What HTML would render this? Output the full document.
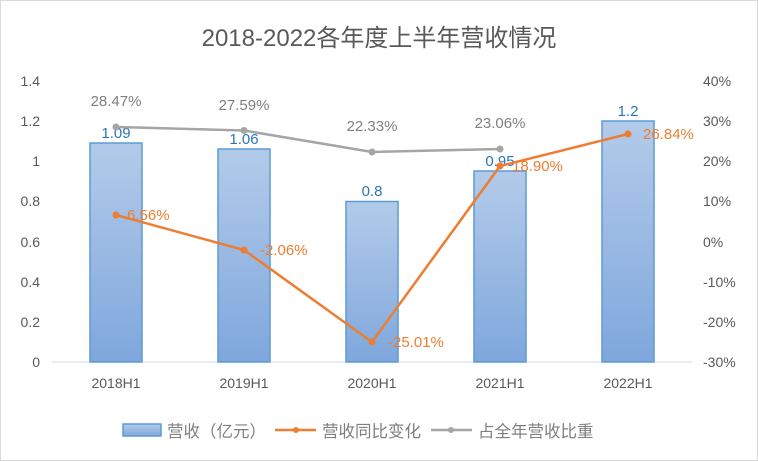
<!DOCTYPE html><html><head><meta charset="utf-8"><style>body{margin:0;background:#fff}svg{display:block}text{font-family:"Liberation Sans","Noto Sans CJK SC",sans-serif}</style></head><body>
<svg width="758" height="461" viewBox="0 0 758 461">
<defs><linearGradient id="g" x1="0" y1="0" x2="0" y2="1"><stop offset="0" stop-color="#b3cbea"/><stop offset="1" stop-color="#7fa7dc"/></linearGradient></defs>
<rect x="0.5" y="0.5" width="757" height="460" fill="#fff" stroke="#d9d9d9"/>
<text x="379" y="46" font-size="24" fill="#595959" text-anchor="middle">2018-2022各年度上半年营收情况</text>
<g stroke="#d9d9d9"><line x1="52" y1="362" x2="692" y2="362"/></g>
<g font-size="14" fill="#595959" text-anchor="end">
<text x="40" y="367">0</text><text x="40" y="327">0.2</text><text x="40" y="287">0.4</text><text x="40" y="247">0.6</text><text x="40" y="206">0.8</text><text x="40" y="166">1</text><text x="40" y="126">1.2</text><text x="40" y="86">1.4</text></g>
<g font-size="14" fill="#595959" text-anchor="start">
<text x="703" y="86">40%</text><text x="703" y="126">30%</text><text x="703" y="166">20%</text><text x="703" y="206">10%</text><text x="703" y="247">0%</text><text x="703" y="287">-10%</text><text x="703" y="327">-20%</text><text x="703" y="367">-30%</text></g>
<g font-size="14" fill="#595959" text-anchor="middle">
<text x="116" y="388">2018H1</text><text x="244" y="388">2019H1</text><text x="372" y="388">2020H1</text><text x="500" y="388">2021H1</text><text x="628" y="388">2022H1</text></g>
<g fill="url(#g)" stroke="#5b9bd5" stroke-width="1.5">
<rect x="90" y="143" width="52" height="219"/><rect x="218" y="149" width="52" height="213"/><rect x="346" y="201.5" width="52" height="160.5"/><rect x="474" y="171" width="52" height="191"/><rect x="602" y="121" width="52" height="241"/></g>
<g font-size="15" fill="#2e75b6" text-anchor="middle">
<text x="116" y="138">1.09</text><text x="244" y="144">1.06</text><text x="372" y="196">0.8</text><text x="500" y="166">0.95</text><text x="628" y="116">1.2</text></g>
<polyline points="116,127 244,130.5 372,152 500,149" fill="none" stroke="#a5a5a5" stroke-width="2.5"/>
<g fill="#a5a5a5"><circle cx="116" cy="127" r="3.5"/><circle cx="244" cy="130.5" r="3.5"/><circle cx="372" cy="152" r="3.5"/><circle cx="500" cy="149" r="3.5"/></g>
<g font-size="15" fill="#7f7f7f" text-anchor="middle">
<text x="116" y="106">28.47%</text><text x="244" y="110">27.59%</text><text x="372" y="131">22.33%</text><text x="500" y="128">23.06%</text></g>
<polyline points="116,215 244,250 372,342 500,166 628,134" fill="none" stroke="#ed7d31" stroke-width="2.5"/>
<g fill="#ed7d31"><circle cx="116" cy="215" r="3.5"/><circle cx="244" cy="250" r="3.5"/><circle cx="372" cy="342" r="3.5"/><circle cx="500" cy="166" r="3.5"/><circle cx="628" cy="134" r="3.5"/></g>
<g font-size="15" fill="#ed7d31">
<text x="127" y="220">6.56%</text><text x="260" y="255">-2.06%</text><text x="388" y="347">-25.01%</text><text x="512" y="171">18.90%</text><text x="643" y="139">26.84%</text></g>
<rect x="123" y="424" width="38" height="12" fill="url(#g)" stroke="#5b9bd5" stroke-width="1.5"/>
<text x="167" y="437" font-size="16.5" fill="#7f7f7f">营收（亿元）</text>
<line x1="275" y1="430" x2="316" y2="430" stroke="#ed7d31" stroke-width="2.5"/><circle cx="296" cy="430" r="3" fill="#ed7d31"/>
<text x="322" y="437" font-size="16.5" fill="#7f7f7f">营收同比变化</text>
<line x1="431" y1="430" x2="472" y2="430" stroke="#a5a5a5" stroke-width="2.5"/><circle cx="451" cy="430" r="3" fill="#a5a5a5"/>
<text x="478" y="437" font-size="16.5" fill="#7f7f7f">占全年营收比重</text>
</svg></body></html>
